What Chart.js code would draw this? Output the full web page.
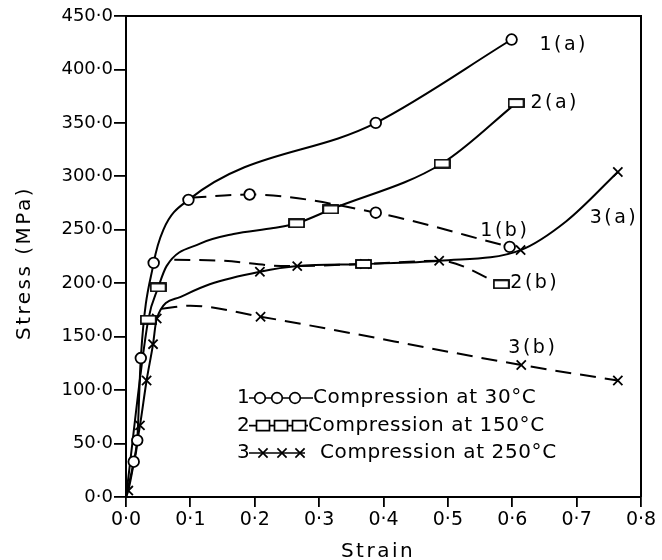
<!DOCTYPE html>
<html>
<head>
<meta charset="utf-8">
<title>Stress vs Strain</title>
<script src="https://cdn.jsdelivr.net/npm/chart.js@4.4.1/dist/chart.umd.min.js"></script>
<style>
  html, body { margin: 0; padding: 0; background: #fff; }
  #chart { display: block; }
</style>
</head>
<body>
<canvas id="chart" width="662" height="560"></canvas>
<script>
// values: [strain, stress MPa]
// "marks" carry a symbol, "bends" are extra points
const marks1a = [[0.012, 33], [0.0175, 53], [0.023, 130], [0.043, 219], [0.097, 278], [0.388, 350], [0.599, 428]];
const bends1a = [[0, 0], [0.058, 250]];

const marks1b = [[0.192, 283], [0.388, 266], [0.596, 234]];
const bends1b = [[0.1, 280]];

const marks2a = [[0.0346, 166], [0.05, 196], [0.265, 256], [0.318, 269], [0.491, 312], [0.606, 368.5]];
const bends2a = [[0, 0], [0.063, 216], [0.115, 237], [0.167, 246], [0.229, 251.6]];

const marks2b = [[0.369, 218], [0.583, 199]];
const bends2b = [[0.075, 222], [0.15, 221], [0.25, 216], [0.487, 221]];

const marks3a = [[0.0036, 6], [0.0217, 67], [0.032, 109], [0.042, 143], [0.0477, 167], [0.208, 210.7],
                 [0.266, 216], [0.371, 218], [0.4865, 221], [0.613, 231], [0.764, 304]];
const bends3a = [[0, 0], [0.084, 187], [0.13, 199], [0.684, 258]];

const marks3b = [[0.209, 168.7], [0.614, 123.5], [0.764, 109]];
const bends3b = [[0.055, 176], [0.1, 179]];

const curveTags = ['1(a)', '2(a)', '3(a)', '1(b)', '2(b)', '3(b)'];
const seriesNames = ['Compression at 30°C', 'Compression at 150°C', 'Compression at 250°C'];
const strainTicks = [0, 0.1, 0.2, 0.3, 0.4, 0.5, 0.6, 0.7, 0.8];
const stressTicks = [0, 50, 100, 150, 200, 250, 300, 350, 400, 450];

const FONT = '"DejaVu Sans", "Liberation Sans", sans-serif';

function toXY(list) {
    return list.map(([x, y]) => ({ x, y }));
}

function pathOf(marks, bends) {
    return toXY(marks.concat(bends)).sort((p, q) => p.x - q.x);
}

function dotLabel(v) {
    return v.toFixed(1).replace('.', '·');
}

// open rectangle symbol used for the 150°C series
function makeBox(w, h) {
    const c = document.createElement('canvas');
    c.width = w + 2;
    c.height = h + 2;
    const g = c.getContext('2d');
    g.fillStyle = '#fff';
    g.fillRect(1, 1, w, h);
    g.strokeStyle = '#000';
    g.lineWidth = 1.8;
    g.strokeRect(1, 1, w, h);
    return c;
}
const boxMark = makeBox(15, 8);

function markSet(list, style) {
    const ds = {
        data: toXY(list),
        showLine: false,
        pointBorderColor: '#000',
        pointBackgroundColor: '#fff',
        pointBorderWidth: 1.8,
        order: 0
    };
    if (style === 'circle') {
        ds.pointStyle = 'circle';
        ds.pointRadius = 5.3;
    } else if (style === 'box') {
        ds.pointStyle = boxMark;
        ds.pointRadius = 6;
    } else {
        ds.pointStyle = 'crossRot';
        ds.pointRadius = 6.5;
    }
    return ds;
}

function curveSet(marks, bends, dashed) {
    return {
        data: pathOf(marks, bends),
        showLine: true,
        pointRadius: 0,
        borderColor: '#000',
        borderWidth: 2,
        borderDash: dashed ? [16, 9] : [],
        cubicInterpolationMode: 'monotone',
        tension: 0.4,
        fill: false,
        order: 1
    };
}

function drawSymbol(ctx, style, x, y) {
    ctx.save();
    ctx.lineWidth = 1.7;
    ctx.strokeStyle = '#000';
    ctx.fillStyle = '#fff';
    ctx.beginPath();
    if (style === 'circle') {
        ctx.arc(x, y, 5.3, 0, Math.PI * 2);
        ctx.fill();
        ctx.stroke();
    } else if (style === 'box') {
        ctx.rect(x - 6.5, y - 5, 13, 10);
        ctx.fill();
        ctx.stroke();
    } else {
        ctx.moveTo(x - 4.6, y - 4.6); ctx.lineTo(x + 4.6, y + 4.6);
        ctx.moveTo(x + 4.6, y - 4.6); ctx.lineTo(x - 4.6, y + 4.6);
        ctx.stroke();
    }
    ctx.restore();
}

const paperPlugin = {
    id: 'paper',
    beforeDraw(chart) {
        const ctx = chart.ctx;
        ctx.save();
        ctx.fillStyle = '#fff';
        ctx.fillRect(0, 0, chart.width, chart.height);
        ctx.restore();
    },
    afterDraw(chart) {
        const { ctx, chartArea: a, scales } = chart;
        const xs = scales.x, ys = scales.y;
        ctx.save();

        // box closing top and right
        ctx.strokeStyle = '#000';
        ctx.lineWidth = 2;
        ctx.beginPath();
        ctx.moveTo(a.left, a.top);
        ctx.lineTo(a.right, a.top);
        ctx.lineTo(a.right, a.bottom);
        ctx.stroke();

        ctx.fillStyle = '#000';
        ctx.textBaseline = 'middle';

        // curve tags, placed in data units
        const tagAt = [[0.68, 423], [0.666, 368.5], [0.758, 261], [0.5885, 248.4], [0.635, 200], [0.632, 139]];
        ctx.font = '19px ' + FONT;
        ctx.letterSpacing = '2.5px';
        ctx.textAlign = 'center';
        curveTags.forEach((t, i) => {
            ctx.fillText(t, xs.getPixelForValue(tagAt[i][0]), ys.getPixelForValue(tagAt[i][1]));
        });

        // axis titles
        ctx.font = '20px ' + FONT;
        ctx.letterSpacing = '2.5px';
        ctx.fillText('Strain', 378, 552);
        ctx.save();
        ctx.translate(25, 263);
        ctx.rotate(-Math.PI / 2);
        ctx.fillText('Stress (MPa)', 0, 0);
        ctx.restore();

        // key
        const styles = ['circle', 'box', 'cross'];
        const rowY = [382, 409.7, 437];
        const symX = [[134, 151, 169], [137, 155, 173], [137, 156, 174]];
        const lineEnd = [187, 182, 179];
        const textX = [187, 182, 194];
        ctx.letterSpacing = '0.6px';
        rowY.forEach((ry, i) => {
            const y = a.top + ry;
            ctx.textAlign = 'left';
            ctx.fillText(String(i + 1), a.left + 111, y);
            ctx.beginPath();
            ctx.lineWidth = 1.7;
            ctx.moveTo(a.left + 123, y);
            ctx.lineTo(a.left + lineEnd[i], y);
            ctx.stroke();
            symX[i].forEach(sx => drawSymbol(ctx, styles[i], a.left + sx, y));
            ctx.fillText(seriesNames[i], a.left + textX[i], y);
        });

        ctx.restore();
    }
};

const datasets = [
    markSet(marks1a, 'circle'),
    markSet(marks1b, 'circle'),
    markSet(marks2a, 'box'),
    markSet(marks2b, 'box'),
    markSet(marks3a, 'cross'),
    markSet(marks3b, 'cross'),
    curveSet(marks1a, bends1a, false),
    curveSet(marks1b, bends1b, true),
    curveSet(marks2a, bends2a, false),
    curveSet(marks2b, bends2b, true),
    curveSet(marks3a, bends3a, false),
    curveSet(marks3b, bends3b, true)
];

const axisLook = {
    grid: { display: true, drawOnChartArea: false, drawTicks: true, color: '#000', lineWidth: 1.8 },
    border: { display: true, color: '#000', width: 2 }
};

new Chart(document.getElementById('chart'), {
    type: 'scatter',
    data: { datasets },
    options: {
        responsive: false,
        animation: false,
        events: [],
        layout: { padding: { top: 16, right: 21, left: 0, bottom: 0 } },
        plugins: { legend: { display: false }, tooltip: { enabled: false } },
        scales: {
            x: {
                type: 'linear',
                min: strainTicks[0],
                max: strainTicks[strainTicks.length - 1],
                afterFit: s => { s.height = 63; },
                afterBuildTicks: s => { s.ticks = strainTicks.map(v => ({ value: v })); },
                grid: Object.assign({}, axisLook.grid, { tickLength: 10 }),
                border: axisLook.border,
                ticks: {
                    color: '#000',
                    font: { family: FONT, size: 19 },
                    padding: 2,
                    maxRotation: 0,
                    callback: v => dotLabel(v)
                }
            },
            y: {
                type: 'linear',
                min: stressTicks[0],
                max: stressTicks[stressTicks.length - 1],
                afterFit: s => { s.width = 126; },
                afterBuildTicks: s => { s.ticks = stressTicks.map(v => ({ value: v })); },
                grid: Object.assign({}, axisLook.grid, { tickLength: 12 }),
                border: axisLook.border,
                ticks: {
                    color: '#000',
                    font: { family: FONT, size: 18 },
                    padding: 1,
                    callback: v => dotLabel(v)
                }
            }
        }
    },
    plugins: [paperPlugin]
});
</script>
</body>
</html>
